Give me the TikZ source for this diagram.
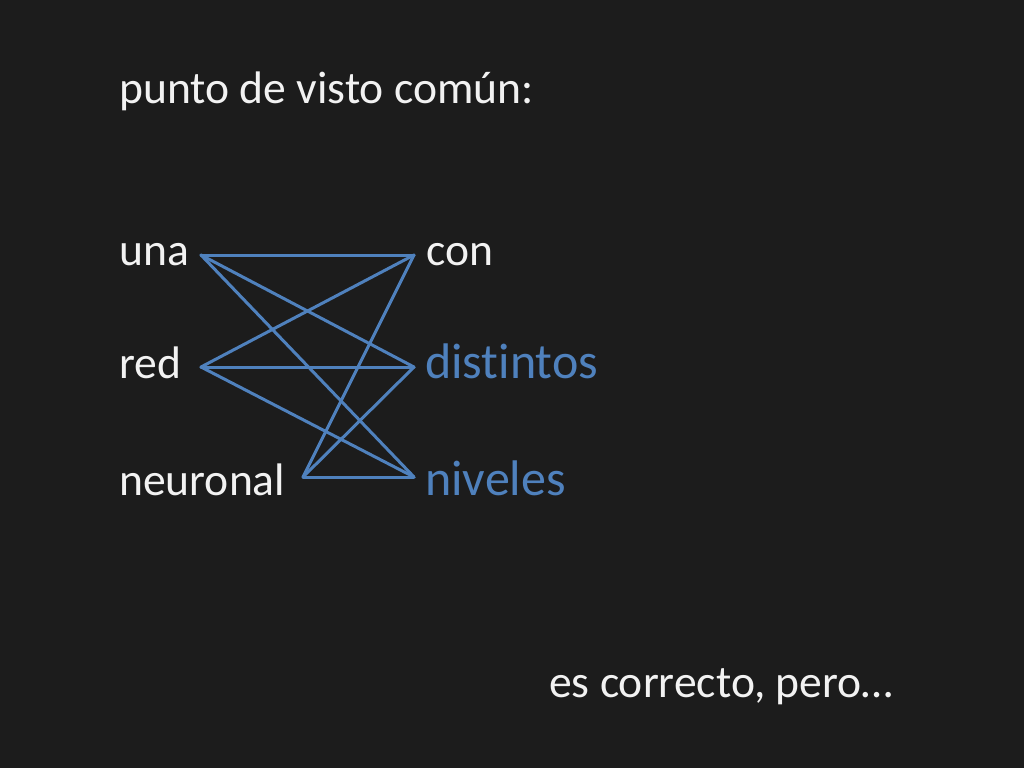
\documentclass[tikz,border=0pt]{standalone}
\usepackage{fontspec}
\setmainfont[Ligatures={NoCommon}]{Carlito}
\definecolor{bg}{HTML}{1C1C1C}
\definecolor{txt}{HTML}{F2F2F2}
\definecolor{blu}{HTML}{4F81BD}
\begin{document}
\begin{tikzpicture}[x=1pt,y=-1pt,
  wtext/.style={anchor=base west,inner sep=0pt,text=txt,font=\fontsize{45.6}{54}\selectfont},
  btext/.style={anchor=base west,inner sep=0pt,text=blu,font=\fontsize{50}{60}\selectfont},
  link/.style={draw=blu,line width=3pt,line cap=round,line join=round}]
\fill[bg] (0,0) rectangle (1024,768);
\useasboundingbox (0,0) rectangle (1024,768);
\node[wtext] (title) at (119,103) {punto de visto común:};
\node[wtext] (una) at (119,265) {una};
\node[wtext] (red) at (119,378) {red};
\node[wtext] (neuronal) at (119,495) {neuronal};
\node[wtext] (con) at (426,265) {con};
\node[btext] (distintos) at (425,378) {distintos};
\node[btext] (niveles) at (425,495) {niveles};
\node[wtext] (pero) at (549,697) {es correcto, pero…};
\coordinate (a1) at (201,255);
\coordinate (a2) at (201,367);
\coordinate (a3) at (303,477);
\coordinate (b1) at (414,255);
\coordinate (b2) at (414,367);
\coordinate (b3) at (414,477);
\foreach \l in {a1,a2,a3}{
  \foreach \r in {b1,b2,b3}{
    \draw[link] (\l) -- (\r);
  }
}
\end{tikzpicture}
\end{document}
